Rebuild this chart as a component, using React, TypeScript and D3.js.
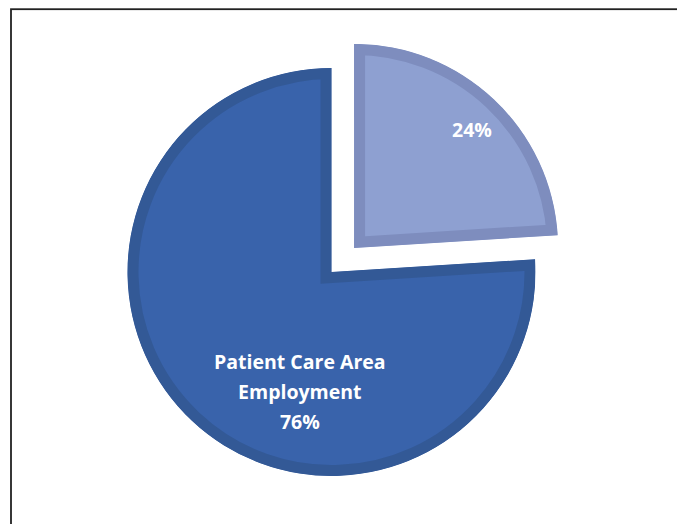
import React from "react";
import * as d3 from "d3";

// slice data, clockwise from 12 o'clock
const categories = ["Other Employment", "Patient Care Area Employment"];
const values = [24, 76];
const labelLines = [["24%"], ["Patient Care Area", "Employment", "76%"]];
const explode = [33, 0];

const fills = ["#8EA0D1", "#3963AB"];
const borders = ["#7E8DBE", "#335996"];

const W = 677;
const H = 524;
const cx = 331.5;
const cy = 272;
const radius = 204;
const band = 11;

// where each label block sits, relative to the slice's own corner
const labelPos: [number, number][] = [
  [44.9, 167],
  [194.8, 124],
];

const App = () => {
  const pie = d3
    .pie<number>()
    .sort(null)
    .value((d) => d);
  const arcs = pie(values);
  const arc = d3.arc<d3.PieArcDatum<number>>().innerRadius(0).outerRadius(radius);

  return (
    <svg
      width={W}
      height={H}
      style={{ position: "absolute", left: 0, top: 0, display: "block" }}
    >
      <rect x={0} y={0} width={W} height={H} fill="#fff" />
      <rect
        x={11}
        y={9.2}
        width={W + 20}
        height={H + 20}
        fill="none"
        stroke="#222"
        strokeWidth={1.8}
      />
      <defs>
        {arcs.map((a, i) => (
          <clipPath id={"slice" + i} key={i}>
            <path d={arc(a) as string} />
          </clipPath>
        ))}
      </defs>
      {arcs.map((a, i) => {
        const mid = (a.startAngle + a.endAngle) / 2;
        const [ox, oy] = d3.pointRadial(mid, explode[i]);
        const [lx, ly] = d3.pointRadial((labelPos[i][0] * Math.PI) / 180, labelPos[i][1]);
        const lines = labelLines[i];
        const lh = 30;
        return (
          <g key={i} transform={`translate(${cx + ox},${cy + oy})`}>
            <path
              d={arc(a) as string}
              fill={fills[i]}
              stroke={borders[i]}
              strokeWidth={band * 2}
              clipPath={`url(#slice${i})`}
            />
            <text
              fill="#fff"
              fontFamily="'Open Sans', Lato, sans-serif"
              fontWeight="bold"
              fontSize={19.5}
              textAnchor="middle"
            >
              {lines.map((t, j) => (
                <tspan
                  key={j}
                  x={lx}
                  y={ly + (j - (lines.length - 1) / 2) * lh + 7}
                >
                  {t}
                </tspan>
              ))}
            </text>
          </g>
        );
      })}
    </svg>
  );
};

export default App;
